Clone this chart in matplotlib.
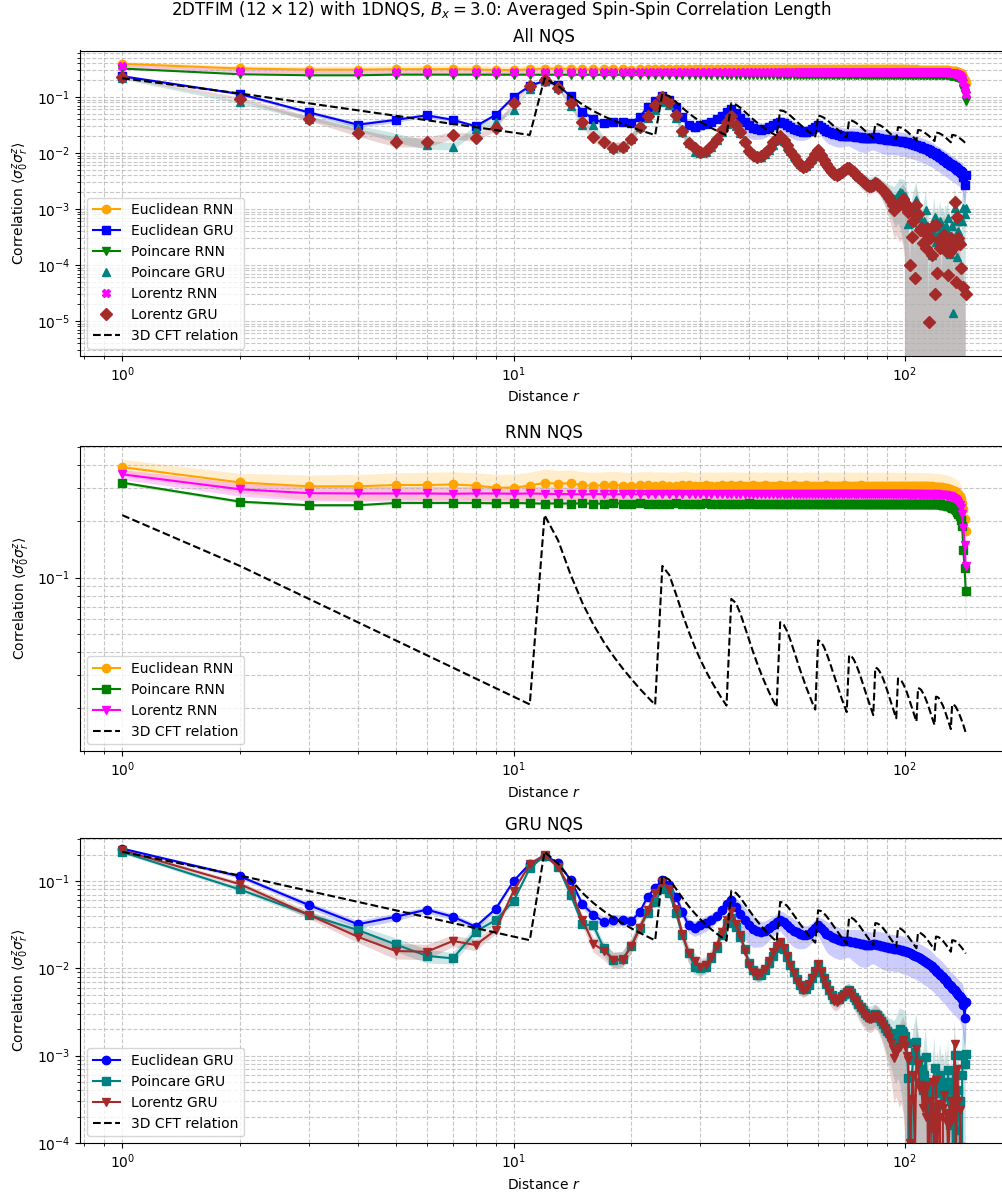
import numpy as np
import matplotlib.pyplot as plt

# distances r = 1 .. 143 on the flattened 12x12 lattice
distance = np.arange(1, 144)

# ---- mean correlations (each row of 12 = one lattice row, first row starts at r=1) ----
eu_rnn = [0.390, 0.323, 0.308, 0.308, 0.313, 0.313, 0.315, 0.311, 0.303, 0.303, 0.311,
          0.322, 0.318, 0.320, 0.312, 0.310, 0.312, 0.314, 0.311, 0.309, 0.312, 0.313, 0.311,
          0.312, 0.310, 0.311, 0.313, 0.312, 0.310, 0.311, 0.312, 0.311, 0.310, 0.312, 0.311,
          0.313, 0.311, 0.312, 0.310, 0.311, 0.312, 0.311, 0.310, 0.312, 0.311, 0.310, 0.311,
          0.312, 0.311, 0.310, 0.311, 0.312, 0.311, 0.310, 0.311, 0.312, 0.311, 0.310, 0.311,
          0.311, 0.310, 0.311, 0.312, 0.311, 0.310, 0.311, 0.311, 0.310, 0.311, 0.312, 0.311,
          0.310, 0.311, 0.311, 0.310, 0.311, 0.312, 0.311, 0.310, 0.311, 0.310, 0.311, 0.311,
          0.310, 0.311, 0.310, 0.311, 0.311, 0.310, 0.310, 0.311, 0.310, 0.310, 0.311, 0.310,
          0.310, 0.310, 0.311, 0.310, 0.309, 0.310, 0.310, 0.309, 0.310, 0.309, 0.309, 0.310,
          0.309, 0.309, 0.308, 0.309, 0.308, 0.308, 0.309, 0.308, 0.307, 0.308, 0.307, 0.306,
          0.306, 0.306, 0.305, 0.305, 0.304, 0.303, 0.302, 0.301, 0.300, 0.298, 0.297, 0.295,
          0.293, 0.291, 0.289, 0.286, 0.283, 0.279, 0.273, 0.265, 0.252, 0.232, 0.205, 0.178]

po_rnn = [0.322, 0.255, 0.244, 0.244, 0.251, 0.251, 0.251, 0.251, 0.250, 0.251, 0.250,
          0.249, 0.250, 0.249, 0.250, 0.249, 0.249, 0.250, 0.249, 0.249, 0.250, 0.249, 0.249,
          0.249, 0.249, 0.250, 0.249, 0.249, 0.249, 0.249, 0.250, 0.249, 0.249, 0.249, 0.249,
          0.249, 0.249, 0.249, 0.249, 0.250, 0.249, 0.249, 0.249, 0.249, 0.249, 0.249, 0.249,
          0.249, 0.249, 0.249, 0.249, 0.249, 0.249, 0.249, 0.248, 0.249, 0.249, 0.249, 0.249,
          0.249, 0.249, 0.248, 0.249, 0.249, 0.249, 0.248, 0.249, 0.249, 0.248, 0.249, 0.249,
          0.249, 0.248, 0.249, 0.249, 0.248, 0.249, 0.248, 0.249, 0.248, 0.249, 0.248, 0.249,
          0.248, 0.249, 0.248, 0.248, 0.249, 0.248, 0.248, 0.249, 0.248, 0.248, 0.248, 0.248,
          0.248, 0.248, 0.248, 0.248, 0.248, 0.248, 0.248, 0.248, 0.248, 0.248, 0.248, 0.248,
          0.248, 0.248, 0.248, 0.247, 0.248, 0.248, 0.247, 0.248, 0.247, 0.248, 0.247, 0.247,
          0.248, 0.248, 0.247, 0.247, 0.246, 0.246, 0.245, 0.244, 0.243, 0.242, 0.241, 0.239,
          0.237, 0.235, 0.232, 0.229, 0.225, 0.220, 0.213, 0.203, 0.188, 0.141, 0.113, 0.085]

lo_rnn = [0.357, 0.297, 0.283, 0.282, 0.282, 0.282, 0.281, 0.282, 0.282, 0.281, 0.282,
          0.281, 0.280, 0.280, 0.279, 0.280, 0.280, 0.279, 0.280, 0.280, 0.279, 0.280, 0.280,
          0.280, 0.279, 0.280, 0.280, 0.279, 0.280, 0.280, 0.279, 0.280, 0.279, 0.280, 0.280,
          0.280, 0.279, 0.280, 0.279, 0.280, 0.280, 0.279, 0.280, 0.279, 0.280, 0.280, 0.279,
          0.280, 0.279, 0.280, 0.280, 0.279, 0.280, 0.279, 0.279, 0.280, 0.279, 0.280, 0.279,
          0.279, 0.280, 0.279, 0.279, 0.280, 0.279, 0.279, 0.280, 0.279, 0.279, 0.279, 0.280,
          0.279, 0.279, 0.280, 0.279, 0.279, 0.279, 0.280, 0.279, 0.279, 0.279, 0.279, 0.279,
          0.279, 0.279, 0.279, 0.279, 0.279, 0.279, 0.279, 0.279, 0.279, 0.279, 0.279, 0.279,
          0.279, 0.279, 0.279, 0.279, 0.279, 0.279, 0.279, 0.278, 0.279, 0.279, 0.278, 0.279,
          0.279, 0.278, 0.279, 0.278, 0.279, 0.278, 0.279, 0.278, 0.278, 0.279, 0.278, 0.278,
          0.279, 0.279, 0.278, 0.278, 0.278, 0.277, 0.277, 0.276, 0.275, 0.274, 0.273, 0.271,
          0.269, 0.267, 0.264, 0.261, 0.257, 0.252, 0.245, 0.236, 0.218, 0.185, 0.150, 0.115]

eu_gru = [0.235, 0.113, 0.053, 0.032, 0.039, 0.047, 0.039, 0.030, 0.048, 0.100, 0.158,
          0.195, 0.162, 0.102, 0.054, 0.041, 0.034, 0.036, 0.036, 0.035, 0.044, 0.066, 0.084,
          0.103, 0.090, 0.066, 0.044, 0.031, 0.029, 0.031, 0.033, 0.036, 0.040, 0.046, 0.054,
          0.060, 0.051, 0.042, 0.036, 0.031, 0.028, 0.027, 0.026, 0.027, 0.029, 0.031, 0.034,
          0.036, 0.034, 0.031, 0.029, 0.027, 0.026, 0.025, 0.024, 0.024, 0.025, 0.027, 0.029,
          0.031, 0.029, 0.027, 0.025, 0.024, 0.023, 0.022, 0.0215, 0.021, 0.0205, 0.0205, 0.0205,
          0.0205, 0.0202, 0.0199, 0.0196, 0.0193, 0.0190, 0.0188, 0.0186, 0.0185, 0.0185, 0.0186, 0.0188,
          0.0189, 0.0186, 0.0183, 0.0180, 0.0178, 0.0176, 0.0174, 0.0172, 0.0170, 0.0169, 0.0168, 0.0167,
          0.0166, 0.0164, 0.0162, 0.0160, 0.0158, 0.0155, 0.0152, 0.0149, 0.0146, 0.0143, 0.0140, 0.0137,
          0.0134, 0.0131, 0.0128, 0.0125, 0.0122, 0.0119, 0.0116, 0.0113, 0.0110, 0.0106, 0.0102, 0.0098,
          0.0094, 0.0091, 0.0088, 0.0085, 0.0082, 0.0079, 0.0076, 0.0073, 0.0070, 0.0067, 0.0064, 0.0062,
          0.0060, 0.0058, 0.0056, 0.0054, 0.0052, 0.0050, 0.0048, 0.0046, 0.0044, 0.0038, 0.0027, 0.0041]

po_gru = [0.215, 0.080, 0.041, 0.0275, 0.0188, 0.0139, 0.0130, 0.0263, 0.0357, 0.059, 0.140,
          0.195, 0.146, 0.069, 0.032, 0.031, 0.017, 0.0125, 0.0128, 0.018, 0.029, 0.043, 0.058,
          0.082, 0.072, 0.043, 0.024, 0.015, 0.0105, 0.0100, 0.0105, 0.013, 0.017, 0.024, 0.033,
          0.038, 0.030, 0.023, 0.0165, 0.0115, 0.0095, 0.0085, 0.0085, 0.0095, 0.0115, 0.014, 0.017,
          0.0195, 0.0165, 0.0135, 0.011, 0.0090, 0.0075, 0.0064, 0.0058, 0.0058, 0.0065, 0.0078, 0.0092,
          0.0108, 0.0093, 0.0078, 0.0066, 0.0056, 0.0049, 0.0045, 0.0044, 0.0045, 0.0048, 0.0051, 0.0054,
          0.0056, 0.0052, 0.0047, 0.0043, 0.0039, 0.0036, 0.0033, 0.0031, 0.0029, 0.0028, 0.0028, 0.0029,
          0.0030, 0.0029, 0.0027, 0.0025, 0.0023, 0.0021, 0.0019, 0.0018, 0.0017, 0.0016, 0.0015, 0.0016,
          0.0018, 0.0020, 0.0019, 0.0018, 0.0017, 0.0014, 0.00055, -0.0002, 0.00059, 0.0009, 0.0011, 0.00144,
          0.0009, 0.0007, 0.0005, 0.0004, 0.0006, 0.00096, 0.0005, 0.00035, -0.0001, 0.00015, 0.0004, 0.00073,
          0.00026, 0.0005, 0.00037, 0.0006, 0.0004, 0.00045, 0.00034, 0.0005, 0.0004, 0.00068, 0.00016, 0.0003,
          0.0005, 0.000014, 0.00103, 0.0006, 0.00014, 0.0004, 0.0003, -0.0001, 0.0006, 0.00103, 0.0008, 0.00105]

lo_gru = [0.225, 0.092, 0.041, 0.023, 0.0158, 0.0155, 0.0206, 0.0185, 0.0275, 0.077, 0.155,
          0.199, 0.146, 0.079, 0.036, 0.019, 0.016, 0.0125, 0.0126, 0.018, 0.029, 0.046, 0.072,
          0.098, 0.082, 0.048, 0.025, 0.015, 0.0122, 0.0105, 0.011, 0.0135, 0.018, 0.026, 0.036,
          0.045, 0.032, 0.024, 0.016, 0.011, 0.0092, 0.0085, 0.0088, 0.0098, 0.012, 0.0155, 0.018,
          0.020, 0.017, 0.014, 0.011, 0.0088, 0.0072, 0.0062, 0.0057, 0.0058, 0.0066, 0.0078, 0.0094,
          0.0112, 0.0092, 0.0076, 0.0063, 0.0053, 0.0046, 0.0042, 0.0041, 0.0043, 0.0046, 0.0050, 0.0053,
          0.0055, 0.0050, 0.0045, 0.0041, 0.0037, 0.0034, 0.0031, 0.0029, 0.0027, 0.0026, 0.0026, 0.0027,
          0.0029, 0.0028, 0.0026, 0.0024, 0.0022, 0.0020, 0.0018, 0.0016, 0.0014, 0.0012, 0.00095, 0.0011,
          0.0012, 0.00125, 0.0014, 0.0015, 0.0013, 0.0010, 0.0009, 0.0001, 0.00032, 0.0006, 0.000058, 0.00118,
          0.0008, 0.00042, 0.00046, 0.00025, 0.00039, 0.0002, 0.00045, 0.0000095, 0.0003, 0.00015, 0.0005, 0.00003,
          0.00052, 0.000071, 0.00028, 0.0002, -0.0001, 0.00025, 0.00035, 0.00018, 0.00022, 0.000066, 0.00017, 0.0003,
          0.00024, 0.0002, 0.00135, 0.00005, 0.00071, 0.0003, 0.00024, 0.00009, -0.0001, 0.00004, -0.00005, 0.00003]

cft = [0.216, 0.1155, 0.0770, 0.0578, 0.0462, 0.0385, 0.0330, 0.0289, 0.0257, 0.0231, 0.0210,
       0.216, 0.158, 0.1033, 0.0731, 0.0560, 0.0453, 0.0380, 0.0327, 0.0287, 0.0255, 0.0230, 0.0209,
       0.1155, 0.1033, 0.0817, 0.0641, 0.0517, 0.0429, 0.0365, 0.0317, 0.0280, 0.0251, 0.0227, 0.0207,
       0.0770, 0.0731, 0.0641, 0.0544, 0.0462, 0.0396, 0.0344, 0.0303, 0.0270, 0.0243, 0.0221, 0.0203,
       0.0578, 0.0560, 0.0517, 0.0462, 0.0408, 0.0361, 0.0320, 0.0287, 0.0258, 0.0235, 0.0214, 0.0197,
       0.0462, 0.0453, 0.0429, 0.0396, 0.0361, 0.0327, 0.0296, 0.0269, 0.0245, 0.0224, 0.0207, 0.0191,
       0.0385, 0.0380, 0.0365, 0.0344, 0.0320, 0.0296, 0.0272, 0.0251, 0.0231, 0.0214, 0.0198, 0.0184,
       0.0330, 0.0327, 0.0317, 0.0303, 0.0287, 0.0269, 0.0251, 0.0233, 0.0217, 0.0203, 0.0189, 0.0177,
       0.0289, 0.0287, 0.0280, 0.0270, 0.0258, 0.0245, 0.0231, 0.0217, 0.0204, 0.0192, 0.0180, 0.0170,
       0.0257, 0.0255, 0.0251, 0.0243, 0.0235, 0.0224, 0.0214, 0.0203, 0.0192, 0.0181, 0.0172, 0.0163,
       0.0231, 0.0230, 0.0227, 0.0221, 0.0214, 0.0207, 0.0198, 0.0189, 0.0180, 0.0172, 0.0163, 0.0155,
       0.0210, 0.0209, 0.0207, 0.0203, 0.0197, 0.0191, 0.0184, 0.0177, 0.0170, 0.0163, 0.0155, 0.0148]

# ---- relative spread of the shaded bands ----
eu_rnn_err = [0.10, 0.12, 0.15, 0.16, 0.16, 0.17, 0.17, 0.17, 0.18, 0.18, 0.18] + \
             [0.18, 0.18, 0.18, 0.18, 0.18, 0.18, 0.18, 0.18, 0.18, 0.18, 0.18, 0.18] * 1 + \
             [0.18, 0.18, 0.18, 0.18, 0.18, 0.18, 0.18, 0.18, 0.18, 0.18, 0.18, 0.18] * 9 + \
             [0.18, 0.18, 0.18, 0.18, 0.18, 0.18, 0.18, 0.18, 0.18, 0.17, 0.16, 0.15]

po_rnn_err = [0.02, 0.02, 0.015, 0.015, 0.015, 0.015, 0.015, 0.015, 0.015, 0.015, 0.015] + \
             [0.015, 0.015, 0.015, 0.015, 0.015, 0.015, 0.015, 0.015, 0.015, 0.015, 0.015, 0.015] * 10 + \
             [0.02, 0.02, 0.02, 0.02, 0.02, 0.02, 0.03, 0.03, 0.05, 0.10, 0.20, 0.40]

lo_rnn_err = [0.06, 0.08, 0.09, 0.09, 0.09, 0.09, 0.09, 0.09, 0.09, 0.09, 0.09] + \
             [0.09, 0.09, 0.09, 0.09, 0.09, 0.09, 0.09, 0.09, 0.09, 0.09, 0.09, 0.09] * 10 + \
             [0.09, 0.09, 0.09, 0.09, 0.09, 0.09, 0.09, 0.10, 0.10, 0.12, 0.15, 0.20]

eu_gru_err = [0.04, 0.05, 0.08, 0.10, 0.10, 0.08, 0.08, 0.08, 0.06, 0.05, 0.04,
              0.03, 0.04, 0.06, 0.10, 0.12, 0.15, 0.15, 0.15, 0.12, 0.10, 0.08, 0.06,
              0.06, 0.08, 0.10, 0.14, 0.18, 0.20, 0.20, 0.20, 0.18, 0.16, 0.14, 0.12,
              0.15, 0.25, 0.35, 0.40, 0.40, 0.38, 0.35, 0.32, 0.30, 0.28, 0.26, 0.25,
              0.25, 0.30, 0.32, 0.35, 0.35, 0.35, 0.33, 0.30, 0.28, 0.26, 0.25, 0.25,
              0.25, 0.30, 0.35, 0.38, 0.40, 0.40, 0.40, 0.40, 0.40, 0.38, 0.36, 0.35,
              0.35, 0.38, 0.40, 0.42, 0.44, 0.45, 0.45, 0.45, 0.44, 0.42, 0.40, 0.40,
              0.42, 0.43, 0.44, 0.45, 0.46, 0.46, 0.46, 0.46, 0.45, 0.45, 0.45, 0.45,
              0.45, 0.45, 0.46, 0.46, 0.46, 0.46, 0.46, 0.46, 0.46, 0.46, 0.46, 0.46,
              0.46, 0.46, 0.46, 0.47, 0.47, 0.47, 0.47, 0.47, 0.47, 0.47, 0.47, 0.47,
              0.47, 0.47, 0.47, 0.48, 0.48, 0.48, 0.48, 0.48, 0.48, 0.48, 0.48, 0.48,
              0.48, 0.48, 0.48, 0.48, 0.48, 0.48, 0.48, 0.50, 0.55, 0.60, 0.55, 0.60]

po_gru_err = [0.05, 0.06, 0.08, 0.12, 0.18, 0.18, 0.15, 0.15, 0.12, 0.08, 0.05,
              0.04, 0.05, 0.08, 0.12, 0.15, 0.18, 0.20, 0.20, 0.18, 0.15, 0.10, 0.08,
              0.06, 0.08, 0.12, 0.16, 0.20, 0.20, 0.20, 0.20, 0.18, 0.15, 0.12, 0.10,
              0.10, 0.12, 0.14, 0.16, 0.18, 0.18, 0.18, 0.18, 0.16, 0.14, 0.12, 0.12,
              0.12, 0.14, 0.15, 0.17, 0.18, 0.18, 0.18, 0.18, 0.17, 0.16, 0.15, 0.14,
              0.14, 0.15, 0.17, 0.18, 0.20, 0.20, 0.20, 0.20, 0.20, 0.20, 0.20, 0.20,
              0.20, 0.22, 0.24, 0.25, 0.26, 0.28, 0.30, 0.30, 0.30, 0.30, 0.30, 0.30,
              0.30, 0.30, 0.32, 0.34, 0.38, 0.42, 0.46, 0.50, 0.55, 0.60, 0.65, 0.70,
              0.70, 0.75, 0.80, 0.85, 0.90, 1.00, 1.20, 1.50, 1.30, 1.20, 1.20, 1.10,
              1.20, 1.30, 1.40, 1.40, 1.30, 1.20, 1.40, 1.50, 1.50, 1.50, 1.40, 1.30,
              1.40, 1.30, 1.40, 1.30, 1.40, 1.40, 1.50, 1.40, 1.40, 1.30, 1.50, 1.40,
              1.40, 1.50, 1.20, 1.30, 1.50, 1.40, 1.40, 1.50, 1.40, 1.20, 1.30, 1.20]

lo_gru_err = [0.05, 0.06, 0.10, 0.15, 0.20, 0.20, 0.15, 0.15, 0.12, 0.08, 0.05,
              0.04, 0.06, 0.10, 0.15, 0.20, 0.22, 0.22, 0.22, 0.20, 0.15, 0.12, 0.08,
              0.06, 0.08, 0.12, 0.18, 0.22, 0.22, 0.22, 0.20, 0.18, 0.15, 0.12, 0.10,
              0.10, 0.12, 0.15, 0.18, 0.20, 0.20, 0.20, 0.18, 0.16, 0.14, 0.12, 0.12,
              0.12, 0.14, 0.16, 0.18, 0.20, 0.20, 0.20, 0.20, 0.18, 0.16, 0.15, 0.14,
              0.14, 0.16, 0.18, 0.20, 0.22, 0.22, 0.22, 0.22, 0.20, 0.20, 0.20, 0.20,
              0.20, 0.22, 0.25, 0.25, 0.28, 0.30, 0.30, 0.30, 0.30, 0.30, 0.30, 0.30,
              0.30, 0.30, 0.32, 0.35, 0.40, 0.45, 0.50, 0.55, 0.60, 0.65, 0.70, 0.70,
              0.75, 0.80, 0.80, 0.85, 0.90, 1.10, 1.20, 1.50, 1.40, 1.30, 1.50, 1.10,
              1.20, 1.40, 1.30, 1.50, 1.40, 1.50, 1.30, 1.60, 1.40, 1.50, 1.30, 1.60,
              1.30, 1.60, 1.40, 1.50, 1.60, 1.40, 1.30, 1.50, 1.40, 1.60, 1.50, 1.40,
              1.40, 1.50, 1.10, 1.60, 1.30, 1.40, 1.50, 1.60, 1.60, 1.60, 1.60, 1.60]

for arr in [eu_rnn, po_rnn, lo_rnn, eu_gru, po_gru, lo_gru, cft,
            eu_rnn_err, po_rnn_err, lo_rnn_err, eu_gru_err, po_gru_err, lo_gru_err]:
    assert len(arr) == len(distance), len(arr)


def band(ax, mean, err, color):
    mean = np.array(mean)
    std = np.abs(mean) * np.array(err)
    ax.fill_between(distance, mean - std, mean + std, color=color, alpha=0.2, linewidth=0)


W, H = 1002, 1198
fig = plt.figure(figsize=(W / 100, H / 100), dpi=100)


def axes_at(top, bottom):
    # pixel box -> figure fraction (right edge runs slightly past the image, as in the source)
    return fig.add_axes([80 / W, 1 - bottom / H, (1008 - 80) / W, (bottom - top) / H])


ax1 = axes_at(50.5, 355.5)
ax2 = axes_at(446, 751)
ax3 = axes_at(838, 1143)

# ---- All NQS ----
ax1.plot(distance, eu_rnn, marker='o', color='orange', label='Euclidean RNN')
band(ax1, eu_rnn, eu_rnn_err, 'orange')
ax1.plot(distance, eu_gru, marker='s', color='blue', label='Euclidean GRU')
band(ax1, eu_gru, eu_gru_err, 'blue')
ax1.plot(distance, po_rnn, marker='v', color='green', label='Poincare RNN')
band(ax1, po_rnn, po_rnn_err, 'green')
ax1.plot(distance, po_gru, marker='^', linestyle='none', color='teal', label='Poincare GRU')
band(ax1, po_gru, po_gru_err, 'teal')
ax1.plot(distance, lo_rnn, marker='X', linestyle='none', color='magenta', label='Lorentz RNN')
band(ax1, lo_rnn, lo_rnn_err, 'magenta')
ax1.plot(distance, lo_gru, marker='D', linestyle='none', color='brown', label='Lorentz GRU')
band(ax1, lo_gru, lo_gru_err, 'brown')
ax1.plot(distance, cft, 'k--', label='3D CFT relation')
ax1.set_title('All NQS')
ax1.set_ylim(2.42e-6, 0.676)

# ---- RNN NQS ----
ax2.plot(distance, eu_rnn, marker='o', color='orange', label='Euclidean RNN')
band(ax2, eu_rnn, eu_rnn_err, 'orange')
ax2.plot(distance, po_rnn, marker='s', color='green', label='Poincare RNN')
band(ax2, po_rnn, po_rnn_err, 'green')
ax2.plot(distance, lo_rnn, marker='v', color='magenta', label='Lorentz RNN')
band(ax2, lo_rnn, lo_rnn_err, 'magenta')
ax2.plot(distance, cft, 'k--', label='3D CFT relation')
ax2.set_title('RNN NQS')
ax2.set_ylim(0.01183, 0.506)

# ---- GRU NQS ----
ax3.plot(distance, eu_gru, marker='o', color='blue', label='Euclidean GRU')
band(ax3, eu_gru, eu_gru_err, 'blue')
ax3.plot(distance, po_gru, marker='s', color='teal', label='Poincare GRU')
band(ax3, po_gru, po_gru_err, 'teal')
ax3.plot(distance, lo_gru, marker='v', color='brown', label='Lorentz GRU')
band(ax3, lo_gru, lo_gru_err, 'brown')
ax3.plot(distance, cft, 'k--', label='3D CFT relation')
ax3.set_title('GRU NQS')
ax3.set_ylim(1e-4, 0.311)

for ax in [ax1, ax2, ax3]:
    ax.set_xscale('log')
    ax.set_yscale('log')
    ax.set_xlim(10 ** -0.1078, 10 ** 2.2633)
    ax.set_xlabel('Distance $r$')
    ax.set_ylabel(r'Correlation $\langle \sigma_0^z \sigma_r^z \rangle$')
    ax.grid(True, which='both', linestyle='--', alpha=0.7)
    ax.legend(loc='lower left')

fig.suptitle(r'2DTFIM $(12 \times 12)$ with 1DNQS, $B_x = 3.0$: Averaged Spin-Spin Correlation Length',
             y=1 - 10 / H, va='center')

fig.savefig('out.png', dpi=100)
